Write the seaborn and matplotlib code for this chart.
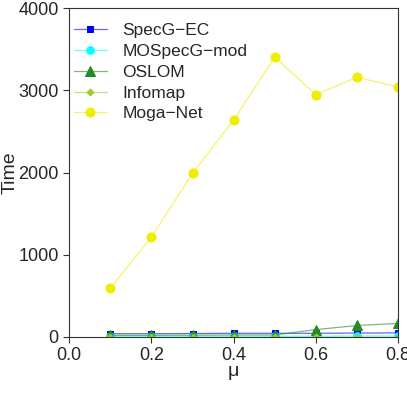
import matplotlib
matplotlib.use('Agg')
import matplotlib.pyplot as plt
import seaborn as sns
import pandas as pd

mu = [0.1, 0.2, 0.3, 0.4, 0.5, 0.6, 0.7, 0.8]
specg_ec = [40, 40, 42, 45, 45, 45, 48, 50]
mospecg_mod = [10, 10, 10, 10, 10, 10, 12, 12]
oslom = [20, 20, 22, 25, 25, 90, 140, 165]
infomap = [5, 5, 5, 5, 5, 5, 5, 5]
moga_net = [595, 1215, 1993, 2637, 3405, 2948, 3159, 3041]

series = [
    ('SpecG\u2212EC', specg_ec, '#0000ff', 's', 5),
    ('MOSpecG\u2212mod', mospecg_mod, '#00ffff', 'o', 5.5),
    ('OSLOM', oslom, '#228b22', '^', 6.5),
    ('Infomap', infomap, '#9acd32', 'D', 3.5),
    ('Moga\u2212Net', moga_net, '#eeee00', 'o', 6.5),
]

sns.set_style('ticks')
plt.rcParams['font.family'] = ['Liberation Sans', 'DejaVu Sans']

fig, ax = plt.subplots(figsize=(4.07, 4.07), dpi=100)
for name, vals, col, mk, ms in series:
    df = pd.DataFrame({'mu': mu, 'time': vals})
    sns.lineplot(data=df, x='mu', y='time', ax=ax, label=name,
                 color=col, lw=0.9, marker=mk, markersize=ms,
                 markerfacecolor=col, markeredgecolor=col)

def soften(ln):
    c = matplotlib.colors.to_rgba(ln.get_markerfacecolor())
    ln.set_alpha(None)
    ln.set_color((c[0], c[1], c[2], 0.6))
    ln.set_markerfacecolor(c)
    ln.set_markeredgecolor(c)

for ln in ax.get_lines():
    soften(ln)

ax.set_xlim(0, 0.8)
ax.set_ylim(0, 4000)
ax.set_xticks([0.0, 0.2, 0.4, 0.6, 0.8])
ax.set_yticks([0, 1000, 2000, 3000, 4000])
ax.tick_params(labelsize=13, length=4, direction='out', color='#333333')
ax.set_xlabel('\u03bc', fontsize=14, labelpad=-1)
ax.set_ylabel('Time', fontsize=14)
ax.yaxis.set_label_coords(-0.155, 0.5)
for s in ax.spines.values():
    s.set_color('#333333')

leg = ax.legend(loc='upper left', bbox_to_anchor=(0, 0.967), frameon=False,
                fontsize=12.5, handlelength=1.9, handletextpad=0.9,
                labelspacing=0.32, borderaxespad=0.0, borderpad=0.25)
for h in leg.legend_handles:
    soften(h)

fig.subplots_adjust(left=0.17, right=0.978, bottom=0.172, top=0.98)
fig.savefig('out.png', dpi=100)
